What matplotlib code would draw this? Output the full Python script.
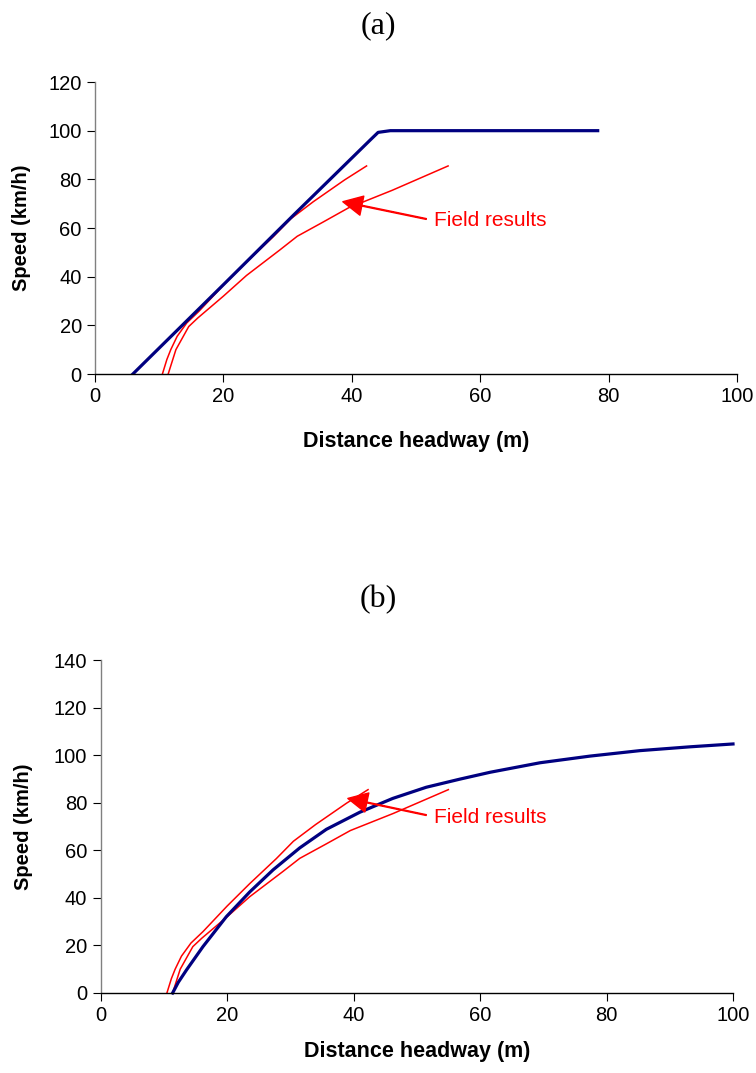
import numpy as np
import matplotlib
matplotlib.use("Agg")
import matplotlib.pyplot as plt

plt.rcParams['font.family'] = ['Liberation Sans', 'DejaVu Sans']

# Field results (same measurements shown in both panels)
field_upper_x = [10.5, 11.2, 11.8, 12.8, 14.3, 16.2, 20.0, 23.6, 27.8, 30.5, 34.0, 38.9, 42.3]
field_upper_y = [0, 6, 10, 15.5, 21, 25.8, 36.5, 46, 56.5, 63.8, 70.8, 79.8, 85.5]
field_lower_x = [11.4, 12.0, 12.6, 14.6, 16.0, 20.0, 23.6, 28.8, 31.5, 35.5, 39.5, 46.3, 55.0]
field_lower_y = [0, 5, 10, 19.5, 23, 32, 40.5, 51, 56.6, 62.4, 68.3, 75.5, 85.5]

# Model (a)
model_a_x = [5.9, 20, 31, 43, 44.1, 46, 78.3]
model_a_y = [0, 36.7, 65.5, 96.5, 99.3, 100, 100]

# Model (b)
model_b_x = [11.4, 12.3, 13.6, 16.2, 19.9, 23.6, 27.3, 31.5, 35.7, 41.0, 46.2, 51.5,
             56.8, 61.6, 69.5, 77.4, 85.3, 93.2, 100]
model_b_y = [0, 4.5, 9.7, 19.5, 32.1, 42.5, 51.8, 61.0, 68.8, 76.0, 81.8, 86.5,
             89.9, 92.8, 96.8, 99.6, 101.9, 103.5, 104.7]

x_ticks = [0, 20, 40, 60, 80, 100]
y_ticks_a = [0, 20, 40, 60, 80, 100, 120]
y_ticks_b = [0, 20, 40, 60, 80, 100, 120, 140]


def style_axes(ax, yticks, xlab_y, ylab_x):
    ax.set_xlim(0, 100)
    ax.set_ylim(0, yticks[-1])
    ax.set_xticks(x_ticks)
    ax.set_yticks(yticks)
    ax.spines['top'].set_visible(False)
    ax.spines['right'].set_visible(False)
    ax.spines['left'].set_color('#808080')
    ax.spines['bottom'].set_color('black')
    ax.spines['left'].set_linewidth(1.0)
    ax.spines['bottom'].set_linewidth(1.0)
    ax.tick_params(direction='out', length=5.5, width=0.8, colors='black',
                   labelsize=14.5, pad=4)
    ax.set_xlabel('Distance headway (m)', fontsize=15.5, fontweight='bold', va='center')
    ax.set_ylabel('Speed (km/h)', fontsize=14.5, fontweight='bold', va='center')
    ax.xaxis.set_label_coords(0.5, xlab_y)
    ax.yaxis.set_label_coords(ylab_x, 0.5)


def field_lines(ax):
    ax.plot(field_upper_x, field_upper_y, color='red', lw=1.1)
    ax.plot(field_lower_x, field_lower_y, color='red', lw=1.1)


def field_arrow(ax, tip, tail, text_xy):
    ax.annotate('', xy=tip, xytext=tail,
                arrowprops=dict(facecolor='red', edgecolor='red', width=0.6,
                                headwidth=14, headlength=14, shrink=0))
    ax.text(text_xy[0], text_xy[1], 'Field results', color='red', fontsize=15,
            ha='left', va='center')


fig = plt.figure(figsize=(7.56, 10.73), dpi=100)

# panel (a)
ax1 = fig.add_axes([95 / 756, 1 - 374 / 1073, 642 / 756, 292 / 1073])
field_lines(ax1)
ax1.plot(model_a_x, model_a_y, color='#000080', lw=2.3, solid_joinstyle='round')
field_arrow(ax1, (38.6, 70.8), (51.6, 63.7), (52.8, 62.9))
style_axes(ax1, y_ticks_a, -0.23, -0.114)
fig.text(378 / 756, 1 - 26 / 1073, '(a)', ha='center', va='center',
         fontsize=23, family='Liberation Serif')

# panel (b)
ax2 = fig.add_axes([100.5 / 756, 1 - 993 / 1073, 632.5 / 756, 333 / 1073])
field_lines(ax2)
ax2.plot(model_b_x, model_b_y, color='#000080', lw=2.3, clip_on=False,
         solid_joinstyle='round')
field_arrow(ax2, (39.1, 81.8), (51.5, 74.8), (52.8, 73.6))
style_axes(ax2, y_ticks_b, -0.177, -0.122)
fig.text(378 / 756, 1 - 600 / 1073, '(b)', ha='center', va='center',
         fontsize=23, family='Liberation Serif')

fig.savefig('out.png', dpi=100)
